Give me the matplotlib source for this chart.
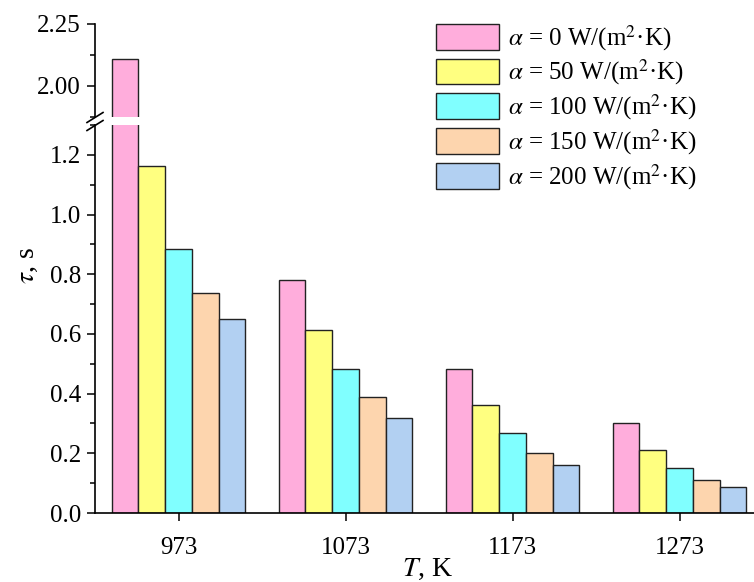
import matplotlib
matplotlib.use("Agg")
import matplotlib.pyplot as plt
from matplotlib.ticker import MultipleLocator, FormatStrFormatter
from matplotlib.lines import Line2D
import numpy as np

plt.rcParams['font.family'] = ['Liberation Serif', 'DejaVu Serif']
plt.rcParams['mathtext.fontset'] = 'stix'
plt.rcParams['font.size'] = 18

temps = ["973", "1073", "1173", "1273"]
alphas = [0, 50, 100, 150, 200]
tau_a0 = [2.11, 0.779, 0.483, 0.301]
tau_a50 = [1.162, 0.613, 0.362, 0.212]
tau_a100 = [0.883, 0.484, 0.267, 0.150]
tau_a150 = [0.737, 0.387, 0.202, 0.112]
tau_a200 = [0.649, 0.318, 0.161, 0.087]
series = [tau_a0, tau_a50, tau_a100, tau_a150, tau_a200]
colors = ["#FFADDC", "#FFFF80", "#80FFFF", "#FDD5AE", "#B2D0F2"]

W, H = 754, 582
fig = plt.figure(figsize=(W / 100, H / 100), dpi=100)

def fx(px):
    return px / W

def fy(py):
    return 1 - py / H

left, right = 95, 763
ax_lo = fig.add_axes([fx(left), fy(513), fx(right - left), fy(125) - fy(513)])
ax_hi = fig.add_axes([fx(left), fy(117), fx(right - left), fy(24) - fy(117)])

x = np.arange(len(temps))
bw = 0.16
for ax in (ax_lo, ax_hi):
    for i, vals in enumerate(series):
        ax.bar(x + (i - 2) * bw, vals, bw, color=colors[i], edgecolor="#222222",
               linewidth=1.0, label=r"$\alpha$ = %d W/(m$^{2}$·K)" % alphas[i])
    ax.set_xlim(-0.5, 3.5)
    ax.spines['top'].set_visible(False)
    ax.spines['right'].set_visible(False)
    ax.spines['left'].set_linewidth(1.2)
    ax.spines['bottom'].set_linewidth(1.2)
    ax.tick_params(which='major', direction='out', length=6, width=1.1)
    ax.tick_params(which='minor', direction='out', length=3.5, width=1.1)
    ax.tick_params(axis='y', pad=4)

ax_lo.set_ylim(0, 1.3)
ax_lo.yaxis.set_major_locator(MultipleLocator(0.2))
ax_lo.yaxis.set_minor_locator(MultipleLocator(0.1))
ax_lo.yaxis.set_major_formatter(FormatStrFormatter('%.1f'))
ax_lo.set_xticks(x)
ax_lo.set_xticklabels(temps)
ax_lo.tick_params(axis='x', pad=11)

ax_hi.set_ylim(1.875, 2.25)
ax_hi.yaxis.set_major_locator(MultipleLocator(0.25))
ax_hi.yaxis.set_minor_locator(MultipleLocator(0.125))
ax_hi.yaxis.set_major_formatter(FormatStrFormatter('%.2f'))
ax_hi.spines['bottom'].set_visible(False)
ax_hi.set_xticks([])

# break marks on the y axis
for yc in (117.5, 125.5):
    fig.add_artist(Line2D([fx(87), fx(103)], [fy(yc + 5), fy(yc - 5)],
                          color="black", linewidth=1.2))

fig.text(fx(27), fy(265), r"$\tau$, s", rotation=90, ha='center', va='center', fontsize=20)
fig.text(fx(428), fy(569), r"$T$, K", ha='center', va='center', fontsize=20)

handles, labels = ax_lo.get_legend_handles_labels()
fig.legend(handles, labels, loc='upper left', bbox_to_anchor=(fx(436), fy(23)),
           frameon=False, borderpad=0, borderaxespad=0, handlelength=2.5,
           handleheight=1.2, labelspacing=0.2, handletextpad=0.36, fontsize=18)

fig.savefig("out.png", dpi=100)
